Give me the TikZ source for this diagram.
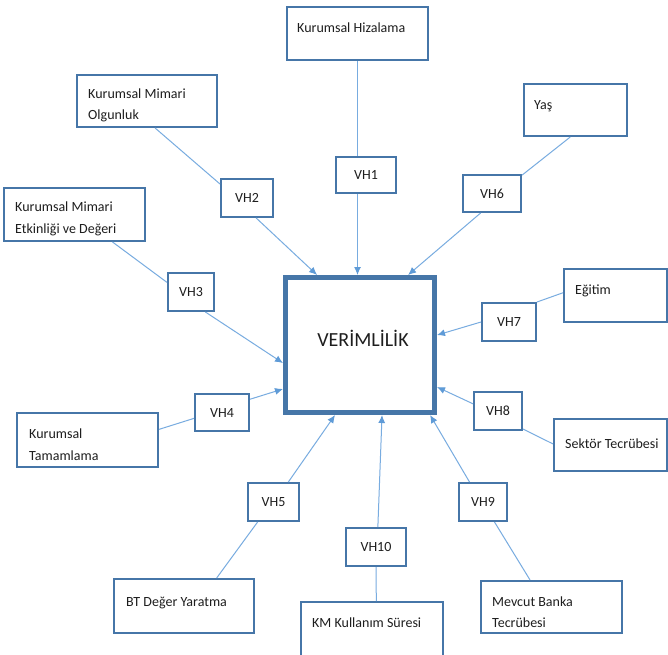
\documentclass[tikz,border=0pt]{standalone}
\usepackage{fontspec}
\setmainfont{Carlito}
\usetikzlibrary{calc,arrows.meta}
\definecolor{boxblue}{RGB}{70,118,168}
\definecolor{linkblue}{RGB}{120,172,224}
\definecolor{tipblue}{RGB}{95,155,215}
\definecolor{txtgray}{RGB}{30,30,30}
\tikzset{
  lbl/.style={rectangle, draw=boxblue, line width=2pt, fill=white, inner sep=0pt, text=txtgray, font=\fontsize{14}{17}\selectfont},
  mainbox/.style={rectangle, draw=boxblue, line width=5pt, fill=white, inner sep=0pt, minimum width=149, minimum height=135},
  txt/.style={inner sep=0pt, anchor=base west, text=txtgray, font=\fontsize{14}{17}\selectfont},
  link/.style={draw=linkblue, line width=1pt},
  arr/.style={link, -{Latex[length=8pt,width=7pt,color=tipblue]}},
}
\begin{document}
\begin{tikzpicture}[x=1pt,y=-1pt]
\clip (0,0) rectangle (668,654);
\fill[white] (0,0) rectangle (668,654);

% central box
\node[mainbox] (main) at (360,345) {};
\node[inner sep=0pt, anchor=base, text=txtgray, font=\fontsize{20}{24}\selectfont] (maintxt) at (363,346.5) {VERİMLİLİK};

% outer label boxes
\node[lbl, minimum width=141, minimum height=53] (hiz) at (357.5,33.5) {};
\node[lbl, minimum width=140, minimum height=52] (olg) at (147,101) {};
\node[lbl, minimum width=141, minimum height=53] (etk) at (74.5,214.5) {};
\node[lbl, minimum width=141, minimum height=54] (tam) at (87.5,440) {};
\node[lbl, minimum width=140, minimum height=54] (bt) at (184,606) {};
\node[lbl, minimum width=142, minimum height=63] (km) at (372,633.5) {};
\node[lbl, minimum width=141, minimum height=52] (mev) at (551.5,607) {};
\node[lbl, minimum width=112.5, minimum height=52] (sek) at (610.25,445) {};
\node[lbl, minimum width=102.5, minimum height=53] (egi) at (615.25,295.5) {};
\node[lbl, minimum width=103, minimum height=52] (yas) at (575.5,110) {};

% texts of outer boxes
\node[txt] (hizA) at (297,32) {Kurumsal Hizalama};
\node[txt] (olgA) at (88,98) {Kurumsal Mimari};
\node[txt] (olgB) at (88,119) {Olgunluk};
\node[txt] (etkA) at (15,211) {Kurumsal Mimari};
\node[txt] (etkB) at (15,233) {Etkinliği ve Değeri};
\node[txt] (tamA) at (29,438) {Kurumsal};
\node[txt] (tamB) at (29,460) {Tamamlama};
\node[txt] (btA) at (126,606) {BT Değer Yaratma};
\node[txt] (kmA) at (312,627) {KM Kullanım Süresi};
\node[txt] (mevA) at (492,606) {Mevcut Banka};
\node[txt] (mevB) at (492,627) {Tecrübesi};
\node[txt] (sekA) at (565,448) {Sektör Tecrübesi};
\node[txt] (egiA) at (575,294) {Eğitim};
\node[txt] (yasA) at (534,109) {Yaş};

% VH boxes
\node[lbl, minimum width=60, minimum height=36] (vh1) at (366,175) {VH1};
\node[lbl, minimum width=52, minimum height=38] (vh2) at (247,198) {VH2};
\node[lbl, minimum width=46, minimum height=38] (vh3) at (191,292) {VH3};
\node[lbl, minimum width=54, minimum height=37] (vh4) at (222,412.5) {VH4};
\node[lbl, minimum width=51, minimum height=38] (vh5) at (273.5,502) {VH5};
\node[lbl, minimum width=58, minimum height=37] (vh6) at (492,193.5) {VH6};
\node[lbl, minimum width=54, minimum height=38] (vh7) at (509,322) {VH7};
\node[lbl, minimum width=48, minimum height=38] (vh8) at (498,411) {VH8};
\node[lbl, minimum width=48, minimum height=38] (vh9) at (483,502) {VH9};
\node[lbl, minimum width=60, minimum height=38] (vh10) at (376,547) {VH10};

% connectors
\draw[link] (hiz.south) -- (hiz.south |- vh1.north);
\draw[arr] (vh1.south -| hiz.south) -- (main.north -| hiz.south);

\draw[link] ($(olg.south west)!0.557!(olg.south east)$) -- ($(vh2.north west)!0.15!(vh2.south west)$);
\draw[arr] ($(vh2.south west)!0.67!(vh2.south east)$) -- ($(main.north west)!0.221!(main.north east)$);

\draw[link] ($(etk.south west)!0.766!(etk.south east)$) -- ($(vh3.north west)!0.26!(vh3.south west)$);
\draw[arr] ($(vh3.south west)!0.8!(vh3.south east)$) -- ($(main.north west)!0.629!(main.south west)$);

\draw[link] ($(tam.north east)!0.31!(tam.south east)$) -- ($(vh4.north west)!0.65!(vh4.south west)$);
\draw[arr] ($(vh4.north east)!0.16!(vh4.south east)$) -- ($(main.north west)!0.814!(main.south west)$);

\draw[link] ($(bt.north west)!0.73!(bt.north east)$) -- ($(vh5.south west)!0.2!(vh5.south east)$);
\draw[arr] ($(vh5.north west)!0.78!(vh5.north east)$) -- ($(main.south west)!0.338!(main.south east)$);

\draw[link] ($(km.north west)!0.53!(km.north east)$) -- ($(vh10.south west)!0.5!(vh10.south east)$);
\draw[arr] ($(vh10.north west)!0.53!(vh10.north east)$) -- ($(main.south west)!0.643!(main.south east)$);

\draw[link] ($(mev.north west)!0.35!(mev.north east)$) -- ($(vh9.south west)!0.73!(vh9.south east)$);
\draw[arr] ($(vh9.north west)!0.23!(vh9.north east)$) -- ($(main.south west)!0.955!(main.south east)$);

\draw[link] ($(sek.north west)!0.48!(sek.south west)$) -- ($(vh8.north east)!0.95!(vh8.south east)$);
\draw[arr] ($(vh8.north west)!0.32!(vh8.south west)$) -- ($(main.north east)!0.8!(main.south east)$);

\draw[link] ($(egi.north west)!0.45!(egi.south west)$) -- (vh7.north east);
\draw[arr] (vh7.west) -- ($(main.north east)!0.429!(main.south east)$);

\draw[link] ($(yas.south west)!0.45!(yas.south east)$) -- ($(vh6.north east)!0.03!(vh6.south east)$);
\draw[arr] ($(vh6.south west)!0.31!(vh6.south east)$) -- ($(main.north west)!0.812!(main.north east)$);
\end{tikzpicture}
\end{document}
